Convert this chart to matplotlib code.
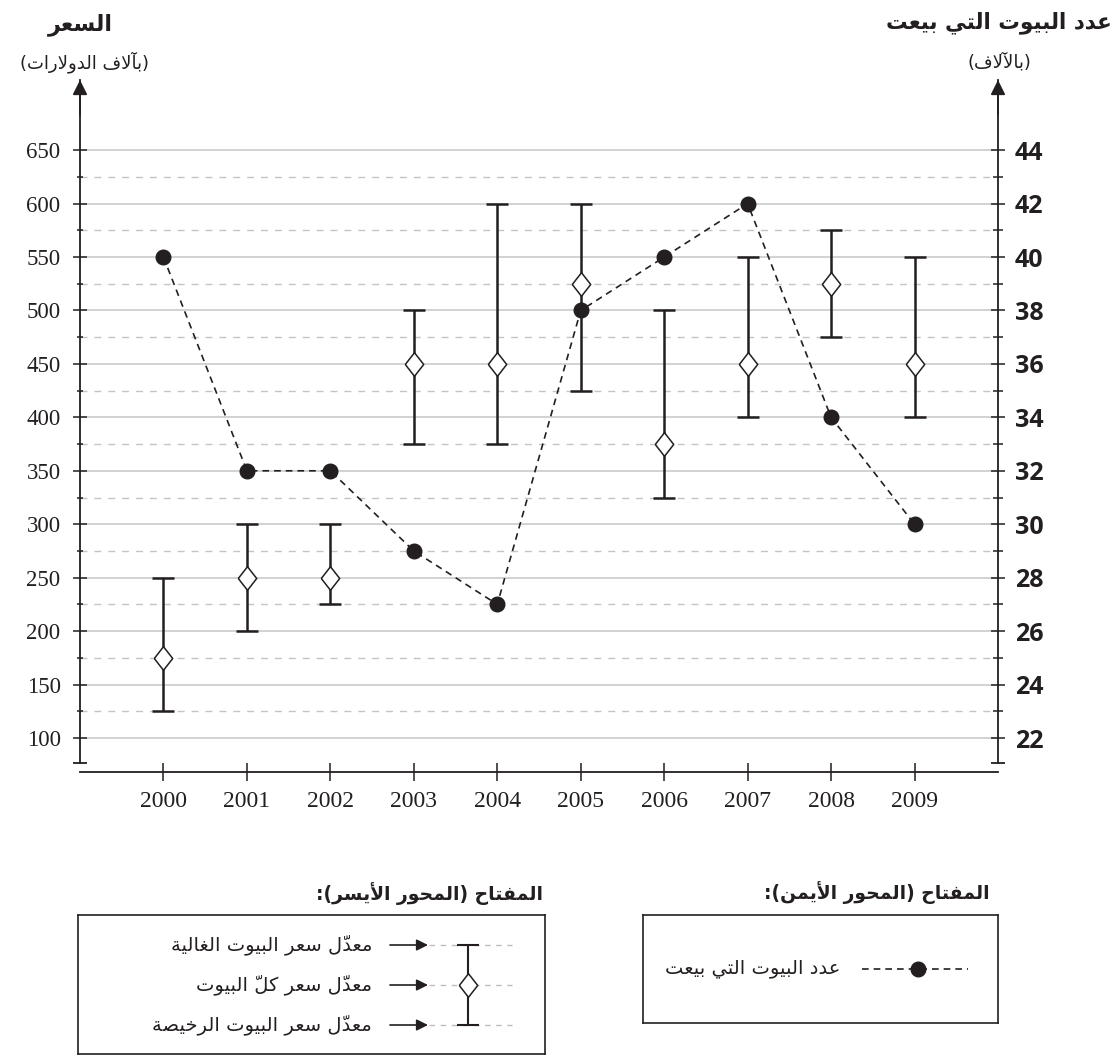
import matplotlib
matplotlib.use("Agg")
import matplotlib.pyplot as plt
import numpy as np
from matplotlib.ticker import FixedLocator

# ---- data ----
years = [2000, 2001, 2002, 2003, 2004, 2005, 2006, 2007, 2008, 2009]
price_low = [125, 200, 225, 375, 375, 425, 325, 400, 475, 400]
price_avg = [175, 250, 250, 450, 450, 525, 375, 450, 525, 450]
price_high = [250, 300, 300, 500, 600, 600, 500, 550, 575, 550]
houses_sold = [40, 32, 32, 29, 27, 38, 40, 42, 34, 30]

left_ticks = [100, 150, 200, 250, 300, 350, 400, 450, 500, 550, 600, 650]
right_ticks = [22, 24, 26, 28, 30, 32, 34, 36, 38, 40, 42, 44]

title_left = "السعر"
sub_left = "(بآلاف الدولارات)"
title_right = "عدد البيوت التي بيعت"
sub_right = "(بالآلاف)"
key_left_title = "المفتاح (المحور الأيسر):"
key_right_title = "المفتاح (المحور الأيمن):"
key_left_items = ["معدّل سعر البيوت الغالية", "معدّل سعر كلّ البيوت", "معدّل سعر البيوت الرخيصة"]
key_right_item = "عدد البيوت التي بيعت"

# ---- small Arabic shaper (matplotlib draws glyphs left to right, unjoined) ----
FORMS = {
    'ا': ('\uFE8D', '\uFE8E', None, None), 'آ': ('\uFE81', '\uFE82', None, None),
    'أ': ('\uFE83', '\uFE84', None, None), 'ة': ('\uFE93', '\uFE94', None, None),
    'د': ('\uFEA9', '\uFEAA', None, None), 'ر': ('\uFEAD', '\uFEAE', None, None),
    'و': ('\uFEED', '\uFEEE', None, None),
    'ب': ('\uFE8F', '\uFE90', '\uFE91', '\uFE92'), 'ت': ('\uFE95', '\uFE96', '\uFE97', '\uFE98'),
    'ح': ('\uFEA1', '\uFEA2', '\uFEA3', '\uFEA4'), 'خ': ('\uFEA5', '\uFEA6', '\uFEA7', '\uFEA8'),
    'س': ('\uFEB1', '\uFEB2', '\uFEB3', '\uFEB4'), 'ص': ('\uFEB9', '\uFEBA', '\uFEBB', '\uFEBC'),
    'ع': ('\uFEC9', '\uFECA', '\uFECB', '\uFECC'), 'غ': ('\uFECD', '\uFECE', '\uFECF', '\uFED0'),
    'ف': ('\uFED1', '\uFED2', '\uFED3', '\uFED4'), 'ك': ('\uFED9', '\uFEDA', '\uFEDB', '\uFEDC'),
    'ل': ('\uFEDD', '\uFEDE', '\uFEDF', '\uFEE0'), 'م': ('\uFEE1', '\uFEE2', '\uFEE3', '\uFEE4'),
    'ن': ('\uFEE5', '\uFEE6', '\uFEE7', '\uFEE8'), 'ي': ('\uFEF1', '\uFEF2', '\uFEF3', '\uFEF4'),
}
LAM_ALEF = {'آ': ('\uFEF5', '\uFEF6'), 'أ': ('\uFEF7', '\uFEF8'), 'ا': ('\uFEFB', '\uFEFC')}
MARKS = '\u064B\u064C\u064D\u064E\u064F\u0650\u0651\u0652'
MIRROR = {'(': ')', ')': '('}


def forms_of(c):
    if c.startswith('LA'):
        iso, fin = LAM_ALEF[c[2]]
        return (iso, fin, None, None)
    return FORMS.get(c)


def shape(text):
    toks = []
    for ch in text:
        if ch in MARKS and toks:
            toks[-1][1].append(ch)
        else:
            toks.append([ch, []])
    merged = []
    i = 0
    while i < len(toks):
        c, m = toks[i]
        if c == 'ل' and i + 1 < len(toks) and toks[i + 1][0] in LAM_ALEF:
            merged.append(['LA' + toks[i + 1][0], m + toks[i + 1][1]])
            i += 2
        else:
            merged.append([c, m])
            i += 1
    out = []
    for i, (c, m) in enumerate(merged):
        f = forms_of(c)
        if f is None:
            g = MIRROR.get(c, c)
        else:
            prev = forms_of(merged[i - 1][0]) if i > 0 else None
            nxt = forms_of(merged[i + 1][0]) if i + 1 < len(merged) else None
            jp = prev is not None and prev[2] is not None
            jn = nxt is not None and f[2] is not None
            g = f[3] if (jp and jn) else f[1] if jp else f[2] if jn else f[0]
        # zero-width marks draw over the glyph that follows them
        out.append(''.join(m) + g)
    return ''.join(reversed(out))


W, H = 1116, 1057
INK = "#231f20"
AR = ["DejaVu Sans"]


def fx(x):
    return x / W


def fy(y):
    return 1 - y / H


fig = plt.figure(figsize=(W / 100, H / 100), dpi=100)

# main axes: x axis line at y=772 px, arrow tips at y=80 px
ax = fig.add_axes([fx(80), fy(772), (998 - 80) / W, (772 - 80) / H])
px_per_unit = 53.44 / 50
ybot = 100 - (772 - 738) / px_per_unit
ytop = 100 + (738 - 80) / px_per_unit
ax.set_xlim(1999, 2010)
ax.set_ylim(ybot, ytop)

ax2 = ax.twinx()
ax2.set_ylim(22 + (ybot - 100) / 25, 22 + (ytop - 100) / 25)

for a in (ax, ax2):
    for s in a.spines.values():
        s.set_visible(False)

ax.spines["bottom"].set_visible(True)
ax.spines["bottom"].set_linewidth(1.3)
ax.spines["bottom"].set_color(INK)
cap_val = 77
ax.spines["left"].set_visible(True)
ax.spines["left"].set_bounds(cap_val, ytop)
ax.spines["left"].set_linewidth(1.3)
ax.spines["left"].set_color(INK)
ax2.spines["right"].set_visible(True)
ax2.spines["right"].set_bounds(22 + (cap_val - 100) / 25, 22 + (ytop - 100) / 25)
ax2.spines["right"].set_linewidth(1.3)
ax2.spines["right"].set_color(INK)

# end caps and arrow heads of the two vertical axes
ax.plot([1999], [cap_val], marker="_", ms=10, mew=1.3, color=INK, clip_on=False)
ax.plot([2010], [cap_val], marker="_", ms=10, mew=1.3, color=INK, clip_on=False)
for xa in (0, 1):
    ax.annotate("", xy=(xa, 1.0), xytext=(xa, 0.95), xycoords="axes fraction",
                arrowprops=dict(arrowstyle="-|>", color=INK, lw=1.3, mutation_scale=22,
                                shrinkA=0, shrinkB=0))

# ticks
ax.set_xticks(years, [str(y) for y in years], fontfamily="Liberation Serif", fontsize=17, color=INK)
ax.tick_params(axis="x", direction="inout", length=13, width=1.1, color=INK, pad=7)
ax.set_yticks(left_ticks, [str(v) for v in left_ticks], fontfamily="Liberation Serif", fontsize=16.5, color=INK)
ax.yaxis.set_minor_locator(FixedLocator([v + 25 for v in left_ticks[:-1]]))
ax.tick_params(axis="y", which="major", direction="inout", length=10, width=1.1, color=INK, pad=9)
ax.tick_params(axis="y", which="minor", direction="inout", length=5, width=1.1, color=INK)

ax2.set_yticks(right_ticks, [str(v) for v in right_ticks], fontfamily="Open Sans", fontweight="bold",
               fontsize=18, color=INK)
ax2.yaxis.set_minor_locator(FixedLocator([v + 1 for v in right_ticks[:-1]]))
ax2.tick_params(axis="y", which="major", direction="inout", length=10, width=1.1, color=INK, pad=7)
ax2.tick_params(axis="y", which="minor", direction="inout", length=7, width=1.1, color=INK)

# grid
ax.grid(axis="y", which="major", color="#d2d2d2", lw=1.4, ls="-")
ax.grid(axis="y", which="minor", color="#c4c4c4", lw=1.0, ls=(0, (5, 5)))
ax.set_axisbelow(True)

# price ranges (left axis)
price_low = np.array(price_low)
price_avg = np.array(price_avg)
price_high = np.array(price_high)
ax.errorbar(years, price_avg, yerr=[price_avg - price_low, price_high - price_avg], fmt="none",
            ecolor=INK, elinewidth=1.8, capsize=8, capthick=1.8, zorder=3)
diamond = [(-0.39, 0), (0, 0.5), (0.39, 0), (0, -0.5), (-0.39, 0)]
ax.plot(years, price_avg, ls="none", marker=diamond, ms=17, mfc="white", mec=INK, mew=1.1, zorder=4)

# houses sold (right axis)
ax2.plot(years, houses_sold, color=INK, lw=1.2, ls=(0, (4, 3)), marker="o", ms=10.5, zorder=5)

# axis titles
fig.text(fx(80), fy(25), shape(title_left), ha="center", va="center", fontsize=16, fontweight="bold",
         family=AR, color=INK)
fig.text(fx(85), fy(62), shape(sub_left), ha="center", va="center", fontsize=13, family=AR, color=INK)
fig.text(fx(999), fy(23), shape(title_right), ha="center", va="center", fontsize=15.5, fontweight="bold",
         family=AR, color=INK)
fig.text(fx(999), fy(62), shape(sub_right), ha="center", va="center", fontsize=13, family=AR, color=INK)

# keys
fig.text(fx(543), fy(894), shape(key_left_title), ha="right", va="center", fontsize=13.5,
         fontweight="bold", family=AR, color=INK)
fig.text(fx(990), fy(893), shape(key_right_title), ha="right", va="center", fontsize=13.5,
         fontweight="bold", family=AR, color=INK)

# left key box, local pixel coordinates (y down)
kx0, ky0, kx1, ky1 = 78, 915, 545, 1054
kl = fig.add_axes([fx(kx0), fy(ky1), (kx1 - kx0) / W, (ky1 - ky0) / H])
kl.set_xlim(0, kx1 - kx0)
kl.set_ylim(ky1 - ky0, 0)
kl.set_xticks([])
kl.set_yticks([])
for s in kl.spines.values():
    s.set_linewidth(1.2)
    s.set_color(INK)
rows = [30, 70, 110]
for ry, label in zip(rows, key_left_items):
    kl.text(294, ry, shape(label), ha="right", va="center", fontsize=14, family=AR, color=INK)
    kl.annotate("", xy=(350, ry), xytext=(312, ry),
                arrowprops=dict(arrowstyle="-|>", color=INK, lw=1.2, mutation_scale=17,
                                shrinkA=0, shrinkB=0))
    kl.plot([351, 434], [ry, ry], color="#bdbdbd", lw=1.0, ls=(0, (4, 4)))
kl.errorbar([390], [rows[1]], yerr=[[rows[1] - rows[0]], [rows[2] - rows[1]]], fmt="none",
            ecolor=INK, elinewidth=1.5, capsize=8, capthick=1.5)
kl.plot([390], [rows[1]], ls="none", marker=diamond, ms=17, mfc="white", mec=INK, mew=1.1)

# right key box
rx0, ry0, rx1, ry1 = 643, 915, 998, 1023
kr = fig.add_axes([fx(rx0), fy(ry1), (rx1 - rx0) / W, (ry1 - ry0) / H])
kr.set_xlim(0, rx1 - rx0)
kr.set_ylim(ry1 - ry0, 0)
kr.set_xticks([])
kr.set_yticks([])
for s in kr.spines.values():
    s.set_linewidth(1.2)
    s.set_color(INK)
kr.text(197, 54, shape(key_right_item), ha="right", va="center", fontsize=14, family=AR, color=INK)
kr.plot([219, 325], [54, 54], color=INK, lw=1.2, ls=(0, (4, 3)))
kr.plot([275], [54], marker="o", ms=10.5, color=INK)

fig.savefig("out.png", dpi=100)
